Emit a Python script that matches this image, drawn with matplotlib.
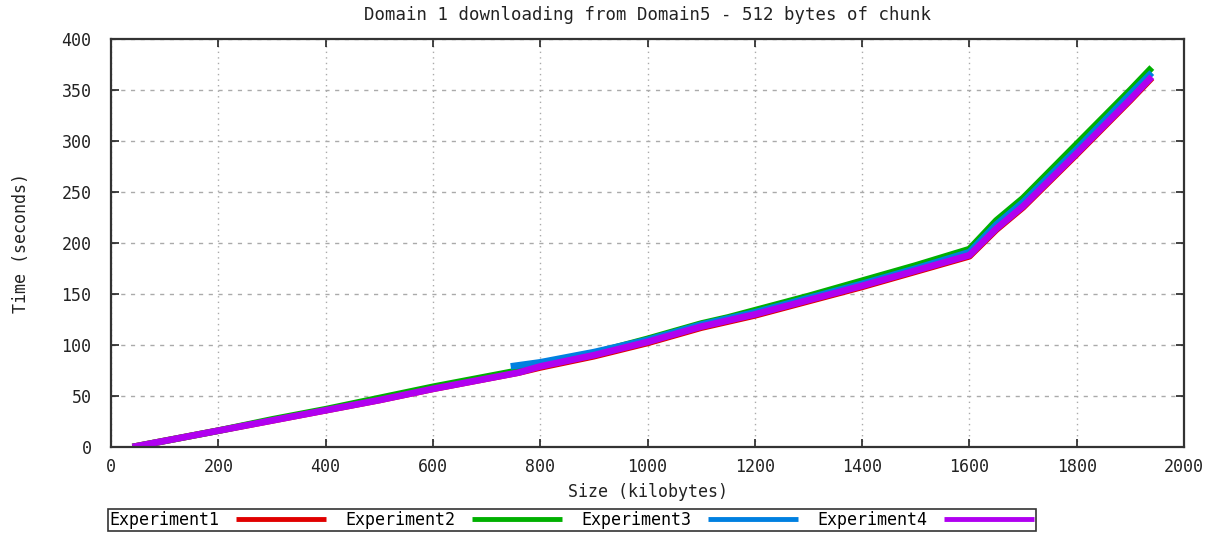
import matplotlib
matplotlib.use("Agg")
import matplotlib.pyplot as plt

title = "Domain 1 downloading from Domain5 - 512 bytes of chunk"
labels = ["Experiment1", "Experiment2", "Experiment3", "Experiment4"]
colors = ["#e00000", "#00b000", "#0080e0", "#b000f0"]

x_main = [40, 100, 200, 300, 400, 500, 600, 700, 760, 800, 900, 1000, 1100, 1150,
          1200, 1300, 1400, 1500, 1600, 1650, 1700, 1800, 1900, 1940]
exp1 = [0, 6, 16, 26, 36, 46, 57, 67, 73, 78, 89, 102, 117, 123,
        129, 143, 157, 172, 187, 213, 235, 287, 340, 362]
exp2 = [0, 6, 16, 27, 37, 48, 59, 69, 75, 80, 92, 106, 121, 127,
        134, 148, 163, 178, 194, 222, 244, 297, 350, 372]
x_exp3 = [745, 800, 900, 1000, 1100, 1150, 1200, 1300, 1400, 1500, 1600, 1650,
          1700, 1800, 1900, 1940]
exp3 = [79, 83, 93, 105, 120, 126, 132, 146, 160, 175, 191, 218,
        240, 292, 346, 367]
exp4 = [0, 6, 16, 26, 36, 46, 57, 67, 73, 79, 90, 103, 118, 124,
        130, 144, 158, 173, 188, 214, 236, 288, 341, 363]

xticks = [0, 200, 400, 600, 800, 1000, 1200, 1400, 1600, 1800, 2000]
yticks = [0, 50, 100, 150, 200, 250, 300, 350, 400]

plt.rcParams['font.family'] = ['DejaVu Sans Mono']
fig = plt.figure(figsize=(12.26, 5.34), dpi=100)
ax = fig.add_axes([111/1226, 1-447/534, (1184-111)/1226, (447-39)/534])

series = [(x_main, exp1), (x_main, exp2), (x_exp3, exp3), (x_main, exp4)]
for (xs, ys), lab, c in zip(series, labels, colors):
    ax.plot(xs, ys, color=c, lw=4.8, label=lab, solid_capstyle='butt')

ax.set_xlim(0, 2000)
ax.set_ylim(0, 400)
ax.set_xticks(xticks)
ax.set_yticks(yticks)
ax.tick_params(direction='in', top=True, right=True, length=6, width=1.2,
               labelsize=12, colors='#222222')
ax.tick_params(axis='y', pad=14)
ax.tick_params(axis='x', pad=8)
for s in ax.spines.values():
    s.set_linewidth(1.6)
    s.set_color('#333333')
ax.xaxis.grid(True, linestyle=(0, (1, 3)), color='#aaaaaa', lw=1)
ax.yaxis.grid(True, linestyle=(0, (3, 4)), color='#aaaaaa', lw=1)
ax.set_axisbelow(True)

ax.set_title(title, fontsize=12.5, pad=14, color='#222222')
ax.set_xlabel("Size (kilobytes)", fontsize=12, labelpad=5, color='#222222')
ax.set_ylabel("Time (seconds)", fontsize=12, labelpad=23, color='#222222')

leg = fig.legend(loc='center left', bbox_to_anchor=(108/1226, 1-520/534), ncol=4,
                 markerfirst=False, frameon=True, fancybox=False, fontsize=12,
                 handlelength=5.4, columnspacing=1.15, handletextpad=1.0,
                 borderpad=0.1, borderaxespad=0)
leg.get_frame().set_edgecolor('black')
leg.get_frame().set_linewidth(1.2)
for line in leg.get_lines():
    line.set_linewidth(3.5)

fig.savefig("out.png", dpi=100)
